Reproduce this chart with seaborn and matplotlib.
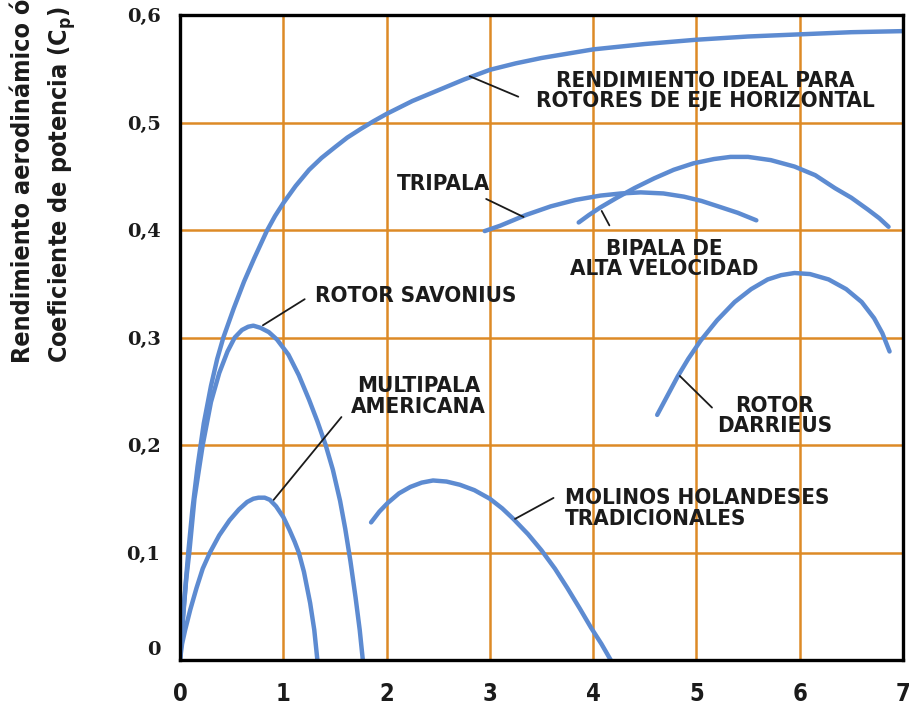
import matplotlib
matplotlib.use("Agg")
import matplotlib.pyplot as plt
import matplotlib.transforms as mtransforms
import numpy as np
import pandas as pd
import seaborn as sns

# ---------------- data ----------------
ideal_x = [0.0, 0.02, 0.05, 0.08, 0.12, 0.17, 0.23, 0.30, 0.36, 0.42, 0.52, 0.62, 0.72,
           0.84, 0.92, 1.0, 1.12, 1.25, 1.37, 1.5, 1.62, 1.75, 1.87, 2.0, 2.25, 2.5,
           2.75, 3.0, 3.25, 3.5, 4.0, 4.5, 5.0, 5.5, 6.0, 6.5, 7.0]
ideal_y = [0.0, 0.03, 0.065, 0.10, 0.14, 0.18, 0.22, 0.255, 0.28, 0.30, 0.327, 0.352,
           0.374, 0.399, 0.413, 0.425, 0.441, 0.456, 0.467, 0.477, 0.486, 0.494, 0.501,
           0.508, 0.520, 0.530, 0.540, 0.549, 0.555, 0.560, 0.568, 0.573, 0.577, 0.580,
           0.582, 0.584, 0.585]

savonius_x = [0.0, 0.03, 0.06, 0.09, 0.14, 0.22, 0.30, 0.38, 0.46, 0.53, 0.60, 0.66,
              0.71, 0.78, 0.86, 0.94, 1.05, 1.15, 1.25, 1.33, 1.41, 1.48, 1.55, 1.60,
              1.65, 1.70, 1.74, 1.77]
savonius_y = [0.0, 0.04, 0.075, 0.10, 0.15, 0.20, 0.24, 0.267, 0.287, 0.30, 0.307, 0.310,
              0.311, 0.309, 0.305, 0.298, 0.284, 0.265, 0.242, 0.222, 0.20, 0.177, 0.148,
              0.122, 0.092, 0.058, 0.028, 0.0]

multipala_x = [0.0, 0.02, 0.05, 0.10, 0.16, 0.22, 0.29, 0.38, 0.48, 0.57, 0.65, 0.71,
               0.76, 0.82, 0.87, 0.93, 1.0, 1.06, 1.11, 1.15, 1.20, 1.26, 1.30, 1.33]
multipala_y = [0.0, 0.015, 0.028, 0.047, 0.067, 0.085, 0.10, 0.116, 0.13, 0.14, 0.147,
               0.150, 0.151, 0.151, 0.149, 0.143, 0.133, 0.121, 0.11, 0.10, 0.082, 0.053,
               0.028, 0.0]

molinos_x = [1.85, 1.93, 2.01, 2.12, 2.23, 2.34, 2.45, 2.58, 2.71, 2.85, 3.0, 3.12, 3.23,
             3.37, 3.5, 3.63, 3.75, 3.87, 3.98, 4.08, 4.17]
molinos_y = [0.128, 0.138, 0.146, 0.155, 0.161, 0.165, 0.167, 0.166, 0.163, 0.158, 0.150,
             0.141, 0.131, 0.117, 0.102, 0.085, 0.067, 0.048, 0.030, 0.015, 0.0]

tripala_x = [2.95, 3.1, 3.35, 3.59, 3.83, 4.07, 4.27, 4.46, 4.68, 4.88, 5.05, 5.21, 5.4,
             5.58]
tripala_y = [0.399, 0.404, 0.414, 0.422, 0.428, 0.432, 0.434, 0.435, 0.434, 0.431, 0.427,
             0.422, 0.416, 0.409]

bipala_x = [3.86, 3.96, 4.07, 4.23, 4.4, 4.59, 4.78, 4.97, 5.17, 5.33, 5.5, 5.72, 5.95,
            6.15, 6.34, 6.5, 6.66, 6.77, 6.86]
bipala_y = [0.407, 0.414, 0.421, 0.430, 0.439, 0.448, 0.456, 0.462, 0.466, 0.468, 0.468,
            0.465, 0.459, 0.451, 0.439, 0.430, 0.419, 0.411, 0.403]

darrieus_x = [4.62, 4.72, 4.82, 4.92, 5.04, 5.2, 5.37, 5.53, 5.69, 5.82, 5.95, 6.1, 6.28,
              6.45, 6.6, 6.72, 6.8, 6.87]
darrieus_y = [0.228, 0.246, 0.264, 0.280, 0.297, 0.316, 0.333, 0.345, 0.354, 0.358, 0.360,
              0.359, 0.354, 0.345, 0.333, 0.318, 0.304, 0.287]

x_ticks = [0, 1, 2, 3, 4, 5, 6, 7]
x_labels = ["0", "1", "2", "3", "4", "5", "6", "7"]
y_ticks = [0, 0.1, 0.2, 0.3, 0.4, 0.5, 0.6]
y_labels = ["0", "0,1", "0,2", "0,3", "0,4", "0,5", "0,6"]

ylabel_line1 = "Rendimiento aerodinámico ó"
ylabel_line2 = "Coeficiente de potencia (C$_{\\mathregular{p}}$)"

# label text, text position, leader start (text side), leader end (curve side), alignment
labels = [
    ("RENDIMIENTO IDEAL PARA\nROTORES DE EJE HORIZONTAL", (5.09, 0.529), (3.30, 0.523), (2.78, 0.544), "center"),
    ("TRIPALA", (2.55, 0.443), (3.35, 0.411), (2.94, 0.430), "center"),
    ("BIPALA DE\nALTA VELOCIDAD", (4.69, 0.373), (4.17, 0.402), (4.07, 0.420), "center"),
    ("ROTOR SAVONIUS", (2.28, 0.339), (1.23, 0.337), (0.78, 0.310), "center"),
    ("MULTIPALA\nAMERICANA", (2.31, 0.245), (1.58, 0.228), (0.89, 0.147), "center"),
    ("MOLINOS HOLANDESES\nTRADICIONALES", (3.73, 0.141), (3.64, 0.152), (3.22, 0.130), "left"),
    ("ROTOR\nDARRIEUS", (5.76, 0.227), (5.17, 0.233), (4.82, 0.266), "center"),
]

# ---------------- style ----------------
sns.set_style("white")
plt.rcParams["font.family"] = ["DejaVu Sans"]
plt.rcParams["mathtext.fontset"] = "dejavusans"

GRID = "#dd8a26"
BLUE = "#5d8bd1"
INK = "#1b1b1b"

fig = plt.figure(figsize=(9.09, 7.06), dpi=100)
ax = fig.add_axes([180 / 909, 46 / 706, 723 / 909, 645 / 706])
ax.set_xlim(0, 7)
ax.set_ylim(0, 0.6)

# grid
for gx in x_ticks[1:]:
    ax.axvline(gx, color=GRID, lw=1.8, zorder=1)
for gy in y_ticks[1:]:
    ax.axhline(gy, color=GRID, lw=1.8, zorder=1)

series = [
    (ideal_x, ideal_y), (savonius_x, savonius_y), (multipala_x, multipala_y),
    (molinos_x, molinos_y), (tripala_x, tripala_y), (bipala_x, bipala_y),
    (darrieus_x, darrieus_y),
]
for xs, ys in series:
    sns.lineplot(x=xs, y=ys, sort=False, estimator=None, color=BLUE, lw=3.2,
                 ax=ax, zorder=3, solid_capstyle="round", solid_joinstyle="round")

# labels with leader lines
for text, tpos, a0, a1, ha in labels:
    ax.annotate("", xy=a1, xytext=a0,
                arrowprops=dict(arrowstyle="-", color=INK, lw=1.3,
                                connectionstyle="arc3,rad=0.0"), zorder=4)
    ax.text(tpos[0], tpos[1], text, ha=ha, va="center", fontsize=16,
            fontweight="bold", fontstretch="condensed", color=INK,
            linespacing=1.02, zorder=5)

# spines
for s in ax.spines.values():
    s.set_visible(True)
    s.set_color("black")
    s.set_linewidth(2.4)
    s.set_zorder(6)

ax.set_xticks(x_ticks)
ax.set_xticklabels(x_labels, fontsize=17, fontweight="bold", fontstretch="condensed",
                   color=INK)
ax.set_yticks(y_ticks)
ax.set_yticklabels(y_labels, fontsize=14, fontweight="bold", family="DejaVu Serif",
                   color=INK)
ax.tick_params(axis="both", direction="out", length=11, width=1.8, color=GRID)
ax.tick_params(axis="y", pad=3)
ax.tick_params(axis="x", pad=5)

# shift the y "0" label slightly up
lab0 = ax.get_yticklabels()[0]
lab0.set_transform(lab0.get_transform() +
                   mtransforms.ScaledTranslation(0, 12 / 100, fig.dpi_scale_trans))

ax.set_xlabel("")
ax.set_ylabel("")

fig.text(23 / 909, 1 - 363 / 706, ylabel_line1, rotation=90, ha="center", va="bottom",
         fontsize=18, fontweight="bold", fontstretch="condensed", color=INK)
fig.text(62 / 909, 1 - 363 / 706, ylabel_line2, rotation=90, ha="center", va="bottom",
         fontsize=18, fontweight="bold", fontstretch="condensed", color=INK)

fig.savefig("out.png", dpi=100, facecolor="white")
